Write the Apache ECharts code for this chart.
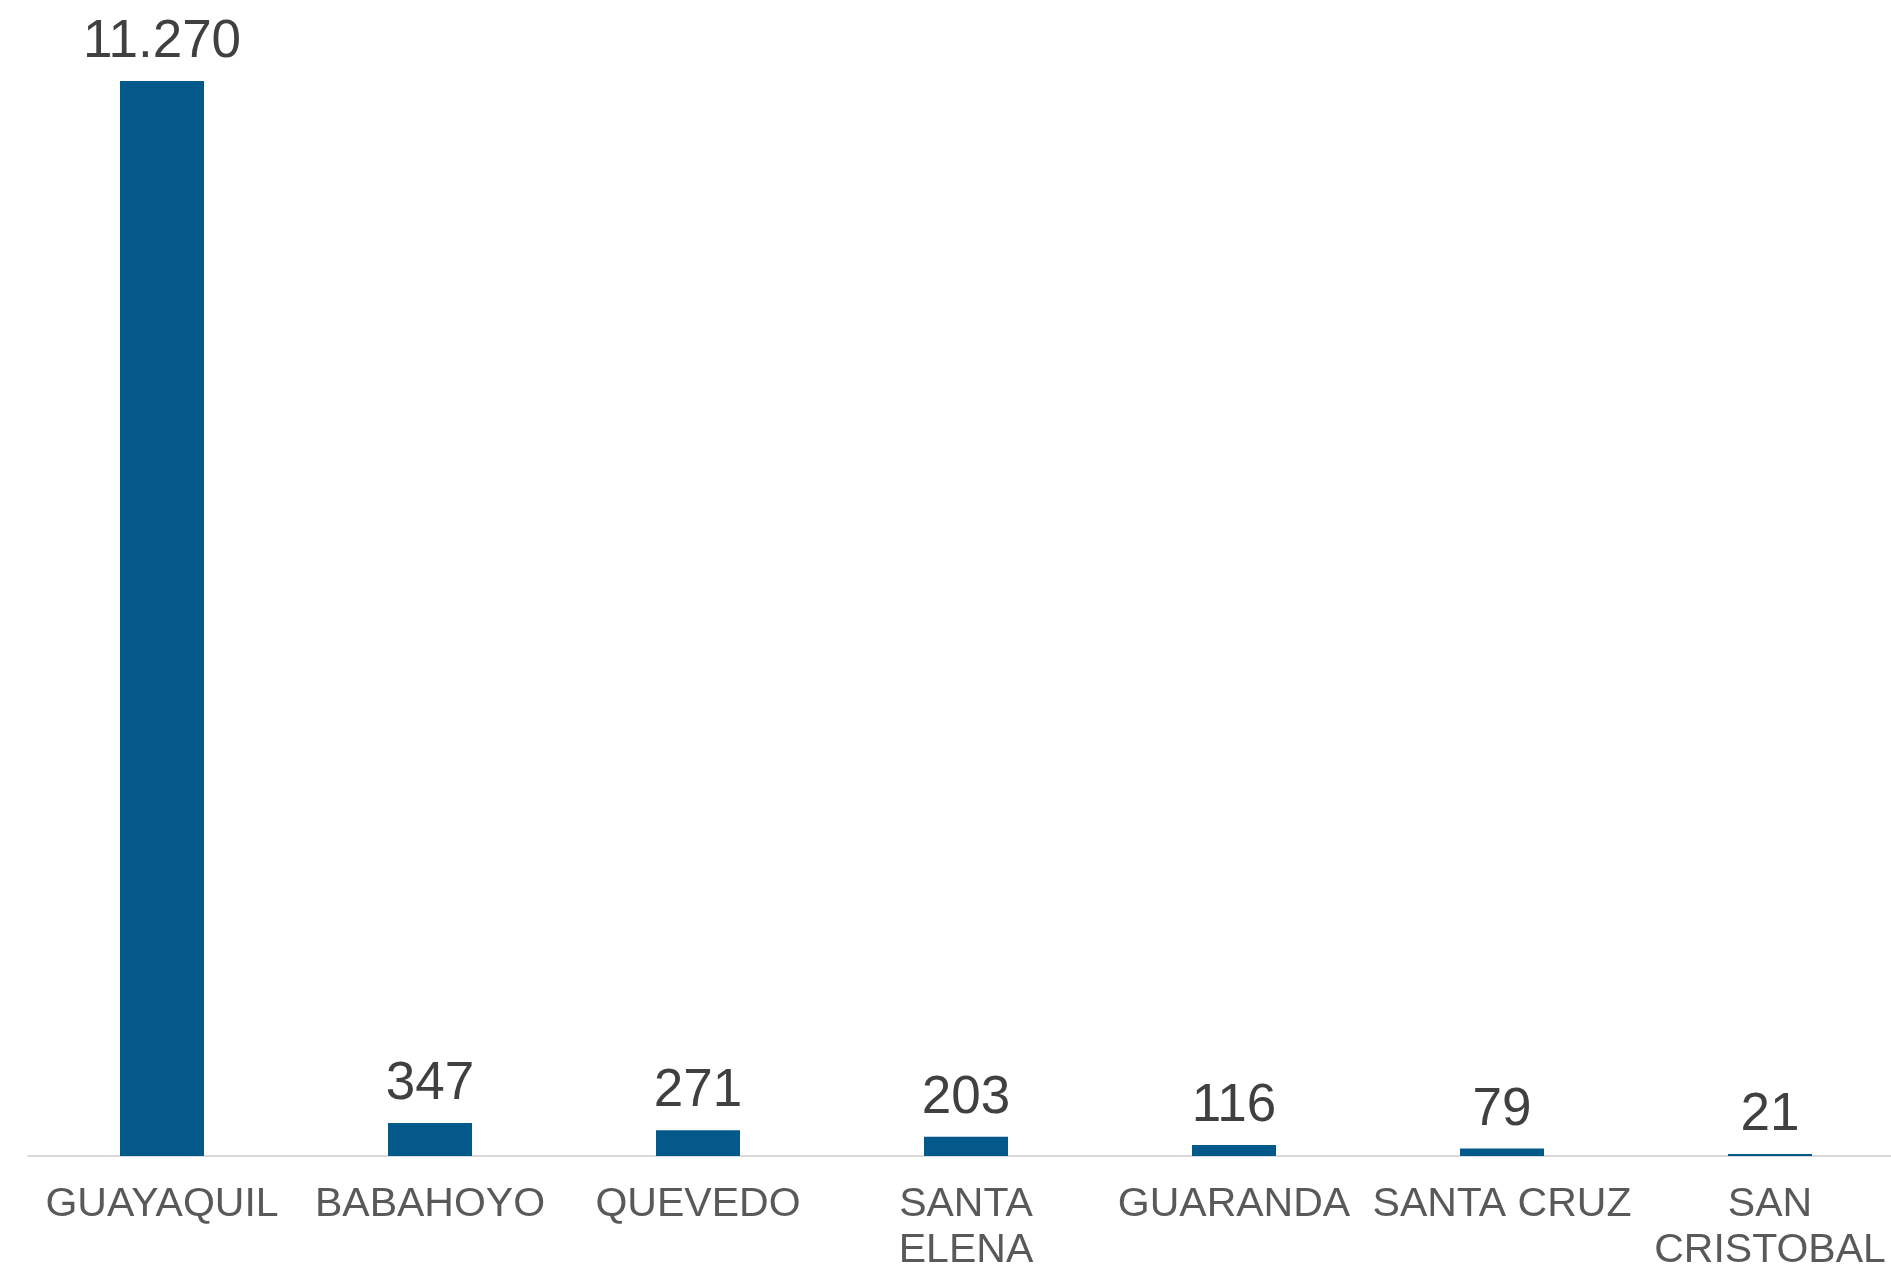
<!DOCTYPE html>
<html>
<head>
<meta charset="utf-8">
<script src="https://cdn.jsdelivr.net/npm/echarts@6/dist/echarts.min.js"></script>
<style>
  html, body { margin: 0; padding: 0; background: #fff; overflow: hidden; }
  #chart { width: 1891px; height: 1268px; }
</style>
</head>
<body>
<div id="chart"></div>
<script>
// ciudades y casos
const ciudades = ["GUAYAQUIL", "BABAHOYO", "QUEVEDO", "SANTA ELENA", "GUARANDA", "SANTA CRUZ", "SAN CRISTOBAL"];
const casos = [11270, 347, 271, 203, 116, 79, 21];

const chart = echarts.init(document.getElementById("chart"));

// separador de miles con punto
const fmt = (v) => String(v).replace(/\B(?=(\d{3})+(?!\d))/g, ".");

chart.setOption({
  animation: false,
  textStyle: { fontFamily: "Liberation Sans, Arial, sans-serif" },
  grid: {
    left: 28,
    width: 1876,
    top: 81,
    bottom: 112,
    containLabel: false,
    outerBoundsMode: "none", // que las etiquetas no encojan el grid
  },
  xAxis: {
    type: "category",
    data: ciudades,
    axisLine: { lineStyle: { color: "#d9d9d9", width: 2 } },
    axisTick: { show: false },
    axisLabel: {
      interval: 0,
      color: "#595959",
      fontSize: 41,
      lineHeight: 46,
      margin: 26,
      // nombres largos en dos líneas
      formatter: (v) => (v.length > 10 ? v.replace(" ", "\n") : v),
    },
  },
  yAxis: {
    type: "value",
    min: 0,
    max: 11270,
    show: false,
    splitLine: { show: false },
  },
  series: [
    {
      type: "bar",
      data: casos,
      barWidth: 84,
      itemStyle: { color: "#03598A" },
      label: {
        show: true,
        position: "top",
        distance: 12,
        color: "#404040",
        fontSize: 53,
        formatter: (p) => fmt(p.value),
      },
    },
  ],
});
</script>
</body>
</html>
